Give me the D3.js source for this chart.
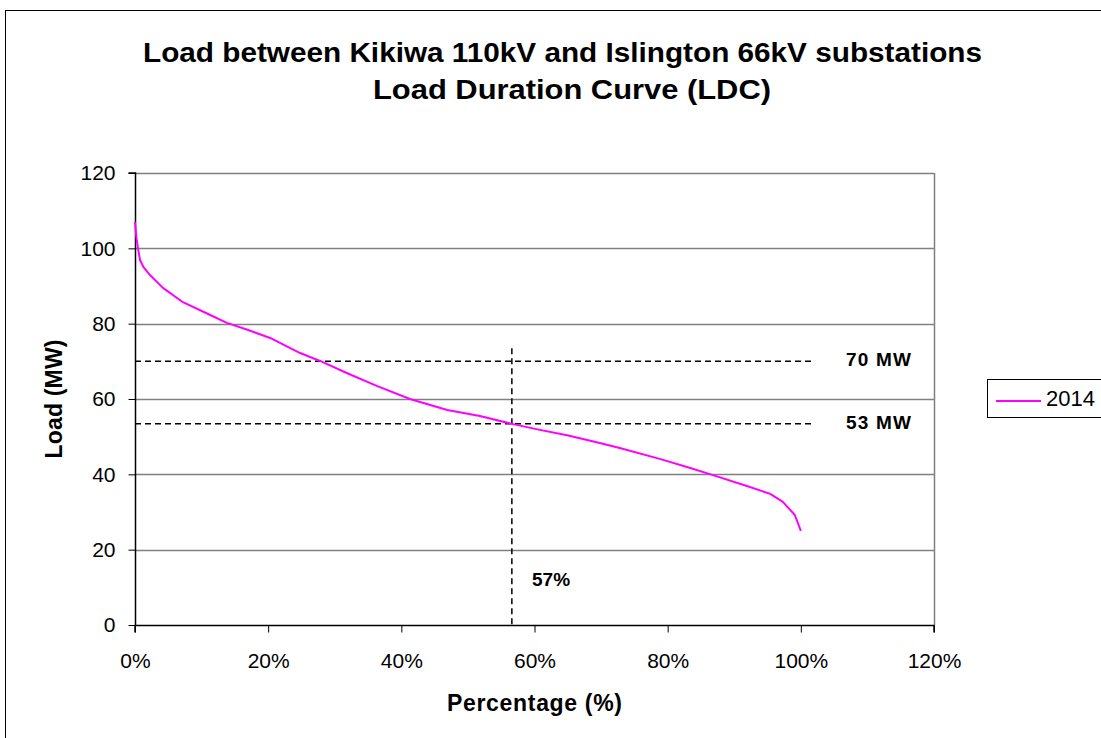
<!DOCTYPE html>
<html>
<head>
<meta charset="utf-8">
<script src="https://cdn.jsdelivr.net/npm/d3@7"></script>
<style>
  html, body { margin: 0; padding: 0; background: #fff; }
  svg { display: block; }
  text { font-family: Arial, "Liberation Sans", sans-serif; }
</style>
</head>
<body>
<svg id="chart" width="1101" height="738"></svg>
<script>
// ---- Data ----
const seriesName = "2014";
const percent = [0, 0.2, 0.45, 0.75, 1.25, 2.25, 4.2, 7.2, 11.3, 13.8, 17, 20.3, 24.8, 27.8, 31.8, 36.3, 41.3, 46.9, 51.8, 56.6, 60.8, 64.9, 69.8, 72.8, 78.8, 83.4, 86.8, 91.9, 95.4, 97.3, 99.1, 100];
const loadMW  = [107, 103, 100, 96.9, 95.1, 92.9, 89.5, 85.7, 82.3, 80.2, 78.3, 76.2, 72.2, 70.1, 66.9, 63.5, 60.0, 57.1, 55.5, 53.4, 51.8, 50.4, 48.3, 47.0, 44.1, 41.7, 39.8, 36.9, 34.8, 32.7, 29.2, 25];
const yTicks = [0, 20, 40, 60, 80, 100, 120];
const xTicks = [0, 20, 40, 60, 80, 100, 120];
const refLoads = [70, 53.4];
const refLoadLabels = ["70 MW", "53 MW"];
const refPercent = 56.6;
const refPercentLabel = "57%";
const refPercentTop = 73.5;
const refLineEnd = 102;
const titleLines = ["Load between Kikiwa 110kV and Islington 66kV substations", "Load Duration Curve (LDC)"];
const xTitle = "Percentage (%)";
const yTitle = "Load (MW)";

// ---- Layout ----
const svg = d3.select("#chart");
const plot = { left: 135, right: 934, top: 173, bottom: 625 };
const x = d3.scaleLinear().domain([0, 120]).range([plot.left, plot.right]);
const y = d3.scaleLinear().domain([0, 120]).range([plot.bottom, plot.top]);

// outer chart border
svg.append("rect").attr("x", 5.5).attr("y", 10.5).attr("width", 1200).attr("height", 800)
  .attr("fill", "#fff").attr("stroke", "#000").attr("stroke-width", 1);

// title
const tl = [{ t: titleLines[0], x: 562.5, y: 62, w: 839 }, { t: titleLines[1], x: 572, y: 99, w: 398 }];
svg.selectAll("text.title").data(tl).join("text").attr("class", "title")
  .attr("x", d => d.x).attr("y", d => d.y).attr("text-anchor", "middle")
  .attr("font-size", 28).attr("font-weight", "bold").attr("fill", "#000")
  .attr("textLength", d => d.w).attr("lengthAdjust", "spacingAndGlyphs")
  .text(d => d.t);

// gridlines
svg.append("g").selectAll("line").data(yTicks.filter(d => d > 0)).join("line")
  .attr("x1", plot.left).attr("x2", plot.right)
  .attr("y1", d => Math.round(y(d)) + 0.5).attr("y2", d => Math.round(y(d)) + 0.5)
  .attr("stroke", "#808080").attr("stroke-width", 1.5);

// plot area right border
svg.append("line").attr("x1", plot.right + 0.5).attr("x2", plot.right + 0.5)
  .attr("y1", plot.top).attr("y2", plot.bottom)
  .attr("stroke", "#808080").attr("stroke-width", 1.5);

// axes
const yAxis = svg.append("g").attr("transform", `translate(${plot.left + 0.5},0)`)
  .call(d3.axisLeft(y).tickValues(yTicks).tickSize(7).tickPadding(13).tickFormat(d3.format("d")));
const xAxis = svg.append("g").attr("transform", `translate(0,${plot.bottom + 0.5})`)
  .call(d3.axisBottom(x).tickValues(xTicks).tickSize(7).tickPadding(21).tickFormat(d => d + "%"));
[yAxis, xAxis].forEach(g => {
  g.select(".domain").attr("stroke", "#000").attr("stroke-width", 1.5);
  g.selectAll(".tick line").attr("stroke", "#000").attr("stroke-width", 1);
  g.selectAll(".tick text").attr("font-size", 21).attr("fill", "#000")
    .attr("font-family", "Arial, 'Liberation Sans', sans-serif");
});
yAxis.select(".domain").attr("d", `M-7,${y(120)}H0V${y(0)}`);
xAxis.select(".domain").attr("d", `M${x(0)},7V0H${x(120)}V7`);

// reference dashed lines
svg.append("g").selectAll("line").data(refLoads).join("line")
  .attr("x1", x(0)).attr("x2", x(refLineEnd))
  .attr("y1", d => y(d)).attr("y2", d => y(d))
  .attr("stroke", "#000").attr("stroke-width", 1.5).attr("stroke-dasharray", "6,4");
svg.append("line")
  .attr("x1", x(refPercent)).attr("x2", x(refPercent))
  .attr("y1", y(refPercentTop)).attr("y2", y(0))
  .attr("stroke", "#000").attr("stroke-width", 1.5).attr("stroke-dasharray", "6,4");

// reference labels
svg.append("g").selectAll("text").data(refLoads).join("text")
  .attr("x", 846).attr("y", d => y(d) + 5).attr("font-size", 19).attr("font-weight", "bold")
  .attr("textLength", 65).attr("lengthAdjust", "spacing")
  .text((d, i) => refLoadLabels[i]);
svg.append("text").attr("x", 532).attr("y", 586).attr("font-size", 19).attr("font-weight", "bold")
  .text(refPercentLabel);

// series line
const pts = percent.map((p, i) => [p, loadMW[i]]);
svg.append("path").datum(pts)
  .attr("d", d3.line().x(d => x(d[0])).y(d => y(d[1])))
  .attr("fill", "none").attr("stroke", "#FF00FF").attr("stroke-width", 2)
  .attr("stroke-linejoin", "round");

// axis titles
svg.append("text").attr("x", (plot.left + plot.right) / 2).attr("y", 711)
  .attr("text-anchor", "middle").attr("font-size", 23).attr("font-weight", "bold")
  .attr("textLength", 175).attr("lengthAdjust", "spacing").text(xTitle);
svg.append("text").attr("transform", `translate(62,${(plot.top + plot.bottom) / 2}) rotate(-90)`)
  .attr("text-anchor", "middle").attr("font-size", 23).attr("font-weight", "bold")
  .attr("textLength", 119).attr("lengthAdjust", "spacing").text(yTitle);

// legend
const lg = svg.append("g");
lg.append("rect").attr("x", 987.5).attr("y", 379.5).attr("width", 200).attr("height", 38)
  .attr("fill", "#fff").attr("stroke", "#000").attr("stroke-width", 1);
lg.append("line").attr("x1", 996).attr("x2", 1041).attr("y1", 401).attr("y2", 401)
  .attr("stroke", "#FF00FF").attr("stroke-width", 2);
lg.append("text").attr("x", 1046).attr("y", 406).attr("font-size", 22).text(seriesName);
</script>
</body>
</html>
